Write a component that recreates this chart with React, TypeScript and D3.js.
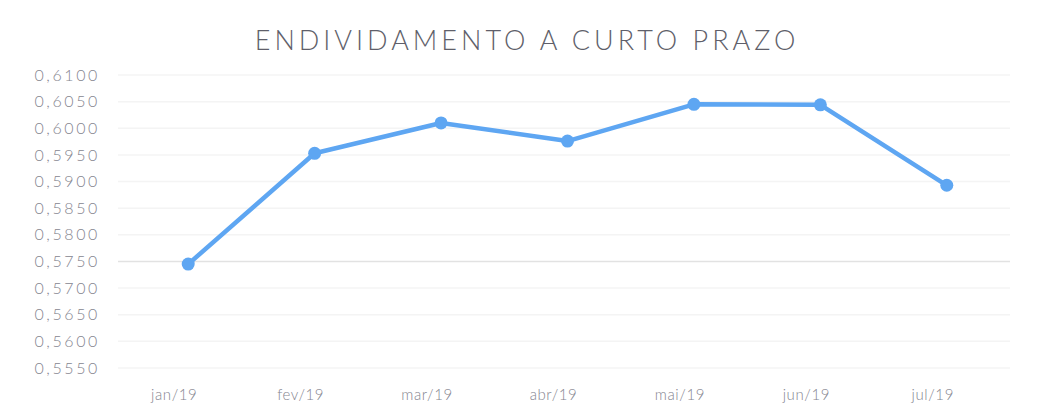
import React, { useRef, useEffect } from 'react';
import * as d3 from 'd3';

const months = ['jan/19', 'fev/19', 'mar/19', 'abr/19', 'mai/19', 'jun/19', 'jul/19'];
const values = [0.5745, 0.5953, 0.6010, 0.5976, 0.6045, 0.6044, 0.5893];
const yTicks = [0.555, 0.56, 0.565, 0.57, 0.575, 0.58, 0.585, 0.59, 0.595, 0.6, 0.605, 0.61];
const title = 'ENDIVIDAMENTO A CURTO PRAZO';

const App = () => {
  const ref = useRef<SVGSVGElement | null>(null);

  useEffect(() => {
    if (!ref.current) return;
    const svg = d3.select(ref.current);
    svg.selectAll('*').remove();

    const W = 1039;
    const H = 414;
    const left = 125;
    const right = 1010;
    const top = 75;
    const bottom = 368;
    const font = 'Lato, "Open Sans", sans-serif';

    const x = d3.scaleBand().domain(months).range([left, right]);
    const y = d3.scaleLinear().domain([0.555, 0.61]).range([bottom, top]);

    svg.append('rect').attr('width', W).attr('height', H).attr('fill', '#fff');

    svg.append('text')
      .attr('x', 527)
      .attr('y', 50)
      .attr('text-anchor', 'middle')
      .attr('font-family', font)
      .attr('font-size', 27)
      .attr('font-weight', 300)
      .attr('letter-spacing', 4)
      .attr('fill', '#5f5f6a')
      .text(title);

    // grid
    svg.append('g')
      .selectAll('line')
      .data(yTicks)
      .join('line')
      .attr('x1', 118)
      .attr('x2', right)
      .attr('y1', d => y(d))
      .attr('y2', d => y(d))
      .attr('stroke', d => (Math.abs(d - 0.575) < 1e-9 ? '#e2e2e2' : '#f4f4f4'))
      .attr('stroke-width', 1.5);

    // y labels
    svg.append('g')
      .selectAll('text')
      .data(yTicks)
      .join('text')
      .attr('x', 100)
      .attr('y', d => y(d))
      .attr('dy', '0.35em')
      .attr('text-anchor', 'end')
      .attr('font-family', font)
      .attr('font-size', 16)
      .attr('font-weight', 300)
      .attr('letter-spacing', 2.6)
      .attr('fill', '#85858f')
      .text(d => d3.format('.4f')(d).replace('.', ','));

    // x labels
    svg.append('g')
      .selectAll('text')
      .data(months)
      .join('text')
      .attr('x', d => (x(d) as number) + x.bandwidth() / 2 - 14)
      .attr('y', 400)
      .attr('text-anchor', 'middle')
      .attr('font-family', font)
      .attr('font-size', 15)
      .attr('font-weight', 300)
      .attr('letter-spacing', 0.6)
      .attr('fill', '#85858f')
      .text(d => d);

    const pts = months.map((m, i) => [(x(m) as number) + x.bandwidth() / 2, y(values[i])] as [number, number]);

    svg.append('path')
      .attr('d', d3.line()(pts))
      .attr('fill', 'none')
      .attr('stroke', '#5ea6f2')
      .attr('stroke-width', 4.5)
      .attr('stroke-linejoin', 'round');

    svg.append('g')
      .selectAll('circle')
      .data(pts)
      .join('circle')
      .attr('cx', d => d[0])
      .attr('cy', d => d[1])
      .attr('r', 6.5)
      .attr('fill', '#5ea6f2');
  }, []);

  return <svg ref={ref} width={1039} height={414} style={{ position: 'absolute', left: 0, top: 0 }} />;
};

export default App;
